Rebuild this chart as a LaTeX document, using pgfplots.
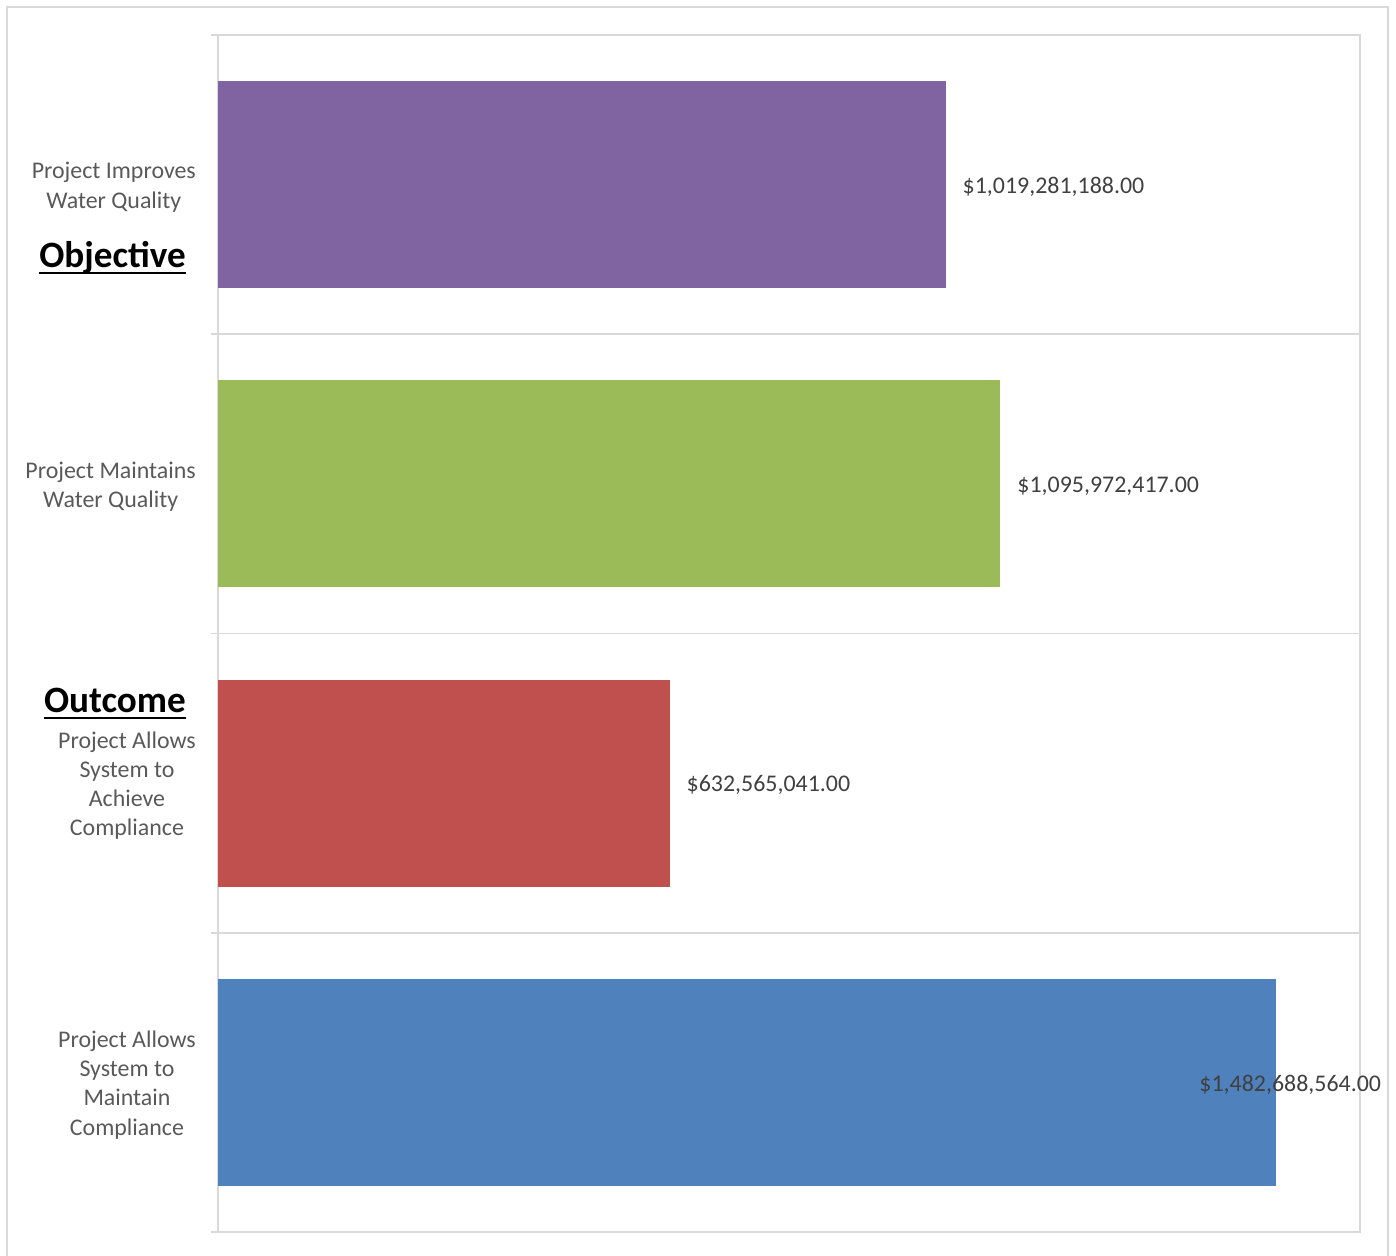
\documentclass[border=0pt]{standalone}
\usepackage{pgfplots}
\pgfplotsset{compat=1.18}
\usepackage{fontspec}
\setmainfont{Carlito}
\definecolor{cpurple}{HTML}{8064A2}
\definecolor{cgreen}{HTML}{9BBB59}
\definecolor{cred}{HTML}{C0504D}
\definecolor{cblue}{HTML}{4F81BD}
\definecolor{gridgray}{HTML}{D9D9D9}
\definecolor{catgray}{HTML}{595959}
\definecolor{valgray}{HTML}{404040}
\begin{document}
\begin{tikzpicture}[x=1bp,y=1bp]
\clip (0,0) rectangle (1396,1255);
\draw[color=gridgray, line width=1.5bp] (7,-10) -- (7,1248) -- (1388,1248) -- (1388,-10);
\begin{axis}[
  at={(218bp,23bp)}, anchor=south west,
  scale only axis, width=1142bp, height=1197bp,
  xmin=0, xmax=1600000000, ymin=-0.5, ymax=3.5,
  xbar, bar width=207bp, bar shift=0pt,
  axis line style={draw=gridgray, line width=1.5bp},
  xtick=\empty,
  ytick={-0.5,0.5,1.5,2.5,3.5}, yticklabels={},
  ytick pos=left,
  ymajorgrids, grid style={draw=gridgray, line width=1.5bp},
  major tick length=7bp, tick align=outside,
  tick style={draw=gridgray, line width=1.5bp},
  point meta=explicit symbolic,
  nodes near coords,
  nodes near coords style={font=\fontsize{24}{29}\selectfont, text=valgray, anchor=west, inner sep=0pt, xshift=17bp, yshift=-2bp},
  clip=false,
]
\addplot[draw=none, fill=cblue, nodes near coords style={xshift=-94bp}] coordinates {(1482688564,0) [\$1,482,688,564.00]};
\addplot[draw=none, fill=cred] coordinates {(632565041,1) [\$632,565,041.00]};
\addplot[draw=none, fill=cgreen] coordinates {(1095972417,2) [\$1,095,972,417.00]};
\addplot[draw=none, fill=cpurple] coordinates {(1019281188,3) [\$1,019,281,188.00]};
\begin{scope}[every node/.style={anchor=east, align=center, text=catgray, inner sep=0pt, font=\fontsize{24}{29.3}\selectfont, xshift=-22bp, yshift=-2.5bp}]
\node at (axis cs:0,3) {Project Improves\\Water Quality};
\node at (axis cs:0,2) {Project Maintains\\Water Quality};
\node at (axis cs:0,1) {Project Allows\\System to\\Achieve\\Compliance};
\node at (axis cs:0,0) {Project Allows\\System to\\Maintain\\Compliance};
\end{scope}
\end{axis}
\node[anchor=base east, inner sep=0pt, font=\fontsize{37.3}{42}\selectfont\bfseries] (obj) at (186,987) {Objective};
\draw[line width=2bp] ([yshift=-5bp]obj.base west) -- ([yshift=-5bp]obj.base east);
\node[anchor=base east, inner sep=0pt, font=\fontsize{37.3}{42}\selectfont\bfseries] (out) at (186,542) {Outcome};
\draw[line width=2bp] ([yshift=-5bp]out.base west) -- ([yshift=-5bp]out.base east);
\end{tikzpicture}
\end{document}
